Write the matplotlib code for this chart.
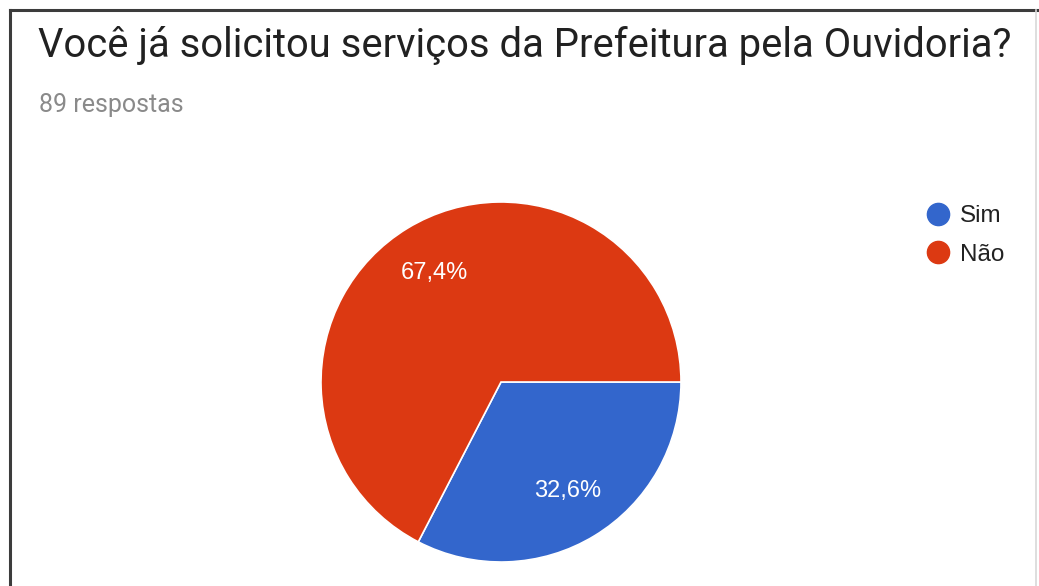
import matplotlib.pyplot as plt
from matplotlib.lines import Line2D

W, H = 1039, 586

title = "Você já solicitou serviços da Prefeitura pela Ouvidoria?"
subtitle = "89 respostas"
labels = ["Sim", "Não"]
values = [32.6, 67.4]
colors = ["#3366CC", "#DC3912"]

plt.rcParams["font.family"] = ["Roboto", "DejaVu Sans"]
chart_font = ["Liberation Sans", "DejaVu Sans"]

fig = plt.figure(figsize=(W / 100, H / 100), dpi=100)
fig.patch.set_facecolor("white")

# frame around the card: dark top/left, faint right, bottom cut off
fig.add_artist(Line2D([10 / W, 10 / W], [0, 1 - 10 / H], transform=fig.transFigure,
                      color="#3c3c3c", linewidth=2.2))
fig.add_artist(Line2D([10 / W, 1], [1 - 10 / H, 1 - 10 / H], transform=fig.transFigure,
                      color="#3c3c3c", linewidth=2.2))
fig.add_artist(Line2D([1036 / W, 1036 / W], [0, 1 - 10 / H], transform=fig.transFigure,
                      color="#d8d8d8", linewidth=1.2))

fig.text(38 / W, 1 - 57 / H, title, fontsize=28.8, color="#212121",
         ha="left", va="baseline")
fig.text(39 / W, 1 - 112 / H, subtitle, fontsize=18, color="#8a8a8a",
         ha="left", va="baseline")

ax = fig.add_axes([321 / W, (H - 562) / H, 360 / W, 360 / H])
wedges, texts, autotexts = ax.pie(
    values, colors=colors, startangle=0, counterclock=False,
    autopct=lambda p: f"{p:.1f}%".replace(".", ","), pctdistance=0.71,
    wedgeprops=dict(edgecolor="white", linewidth=1.2),
    textprops=dict(color="white", fontsize=17, family=chart_font))
ax.set_xlim(-1, 1)
ax.set_ylim(-1, 1)
ax.set_aspect("equal")
ax.axis("off")

handles = [Line2D([], [], marker="o", linestyle="", markersize=16,
                  markerfacecolor=c, markeredgecolor=c) for c in colors]
fig.legend(handles, labels, loc="upper left",
           bbox_to_anchor=(926 / W, 1 - 205 / H), frameon=False,
           prop=dict(family=chart_font, size=17.5), labelcolor="#222222",
           handletextpad=0.4, labelspacing=0.69, handlelength=1.0,
           borderpad=0, borderaxespad=0)

fig.savefig("out.png", dpi=100)
